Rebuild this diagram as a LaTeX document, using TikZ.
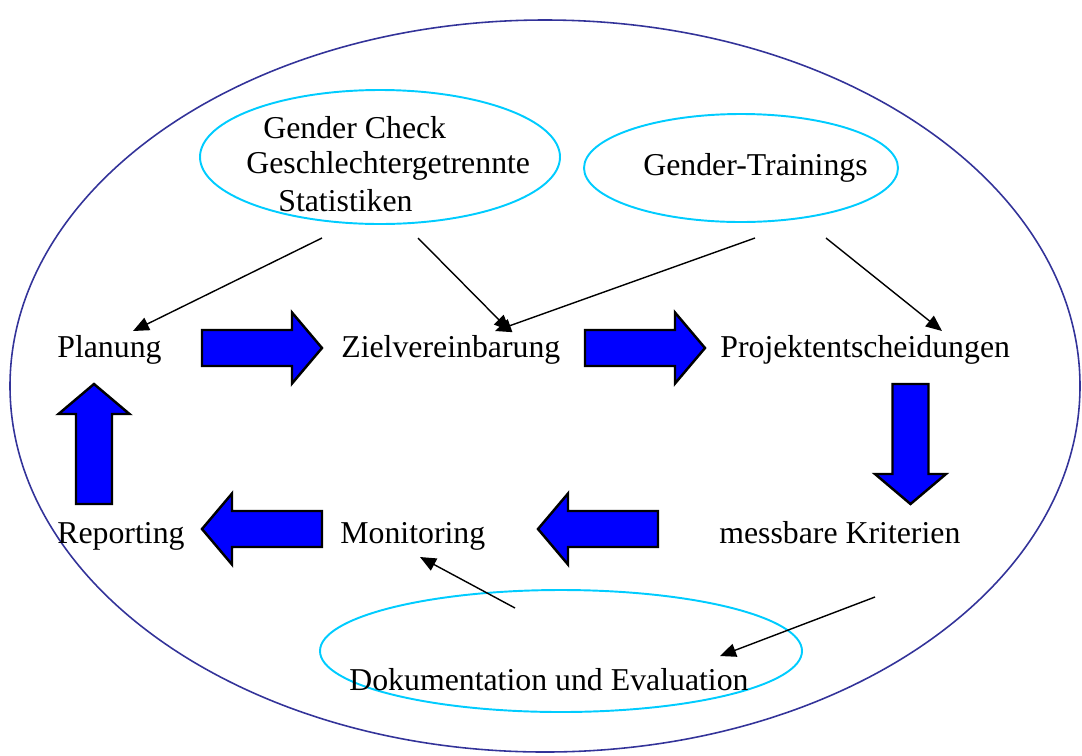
\documentclass[tikz,border=0pt]{standalone}
\usepackage{fontspec}
\setmainfont{Liberation Serif}
\usetikzlibrary{arrows.meta}
\definecolor{rimblue}{RGB}{51,51,153}
\definecolor{ovalcyan}{RGB}{0,204,255}
\definecolor{flowblue}{RGB}{0,0,255}

\begin{document}
\begin{tikzpicture}[x=0.02cm,y=-0.02cm,
	lbl/.style={anchor=base west,inner sep=0pt,font=\fontsize{18.1}{21}\selectfont},
	oval/.style={ovalcyan,line width=1.1pt},
	thin/.style={line width=0.8pt,-{Triangle[length=0.32cm,width=0.27cm]}},
	blockarrow/.style={draw=black,fill=flowblue,line width=1.4pt,line join=miter}]
		\useasboundingbox (0,0) rectangle (1082,755);
		\draw[rimblue,line width=0.9pt] (545,386) ellipse [x radius=535,y radius=366]; %outer ring
		\draw[oval] (380,157) ellipse [x radius=180,y radius=67]; %small ovals
		\draw[oval] (741,168) ellipse [x radius=157,y radius=54];
		\draw[oval] (561,651) ellipse [x radius=241,y radius=61];
		\node[lbl] (check) at (263,138) {Gender Check}; %oval texts
		\node[lbl] (getrennt) at (246,173) {Geschlechtergetrennte};
		\node[lbl] (stat) at (278,211) {Statistiken};
		\node[lbl] (training) at (643,175) {Gender-Trainings};
		\node[lbl] (doku) at (349,690) {Dokumentation und Evaluation};
		\node[lbl] (plan) at (57,357) {Planung}; %cycle steps
		\node[lbl] (ziel) at (341,357) {Zielvereinbarung};
		\node[lbl] (projekt) at (720,357) {Projektentscheidungen};
		\node[lbl] (kriterien) at (719,543) {messbare Kriterien};
		\node[lbl] (monitor) at (340,543) {Monitoring};
		\node[lbl] (report) at (57,543) {Reporting};
		\foreach \px/\py/\ang in {202/348/0,585/348/0,910.5/384/-90,658/529/180,322/529/180,94/504/90}
			\draw[blockarrow,shift={(\px,\py)},rotate=\ang] (0,18) -- (90,18) -- (90,35.5)
				-- (120,0) -- (90,-35.5) -- (90,-18) -- (0,-18) -- cycle; %block arrows
		\coordinate (c1) at (322,238); %thin arrows
		\coordinate (c2) at (418,238);
		\coordinate (t1) at (755,238);
		\coordinate (t2) at (826,238);
		\coordinate (k1) at (875,597);
		\coordinate (d1) at (515,608);
		\coordinate (planin) at (133,331);
		\coordinate (zielin) at (510,331);
		\coordinate (zielin2) at (495,331);
		\coordinate (projin) at (942,331);
		\coordinate (dokuin) at (720,656);
		\coordinate (monin) at (420,557);
		\draw[thin] (c1) -- (planin);
		\draw[thin] (c2) -- (zielin);
		\draw[thin] (t1) -- (zielin2);
		\draw[thin] (t2) -- (projin);
		\draw[thin] (k1) -- (dokuin);
		\draw[thin] (d1) -- (monin);
	\end{tikzpicture}
\end{document}
